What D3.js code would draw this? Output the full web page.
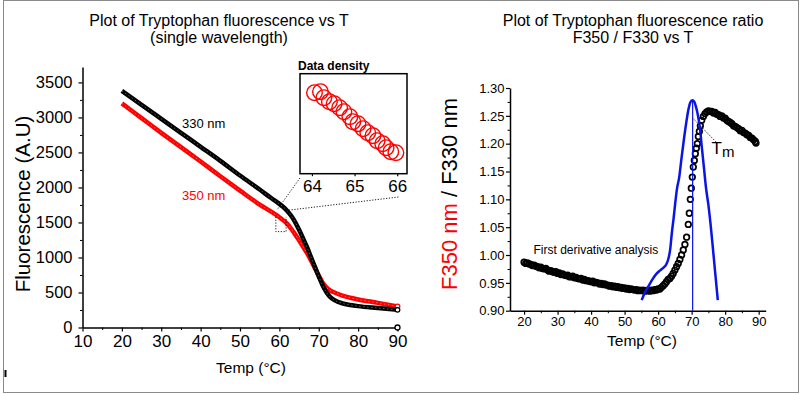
<!DOCTYPE html>
<html>
<head>
<meta charset="utf-8">
<script src="https://cdn.jsdelivr.net/npm/d3@7"></script>
<style>
body { margin: 0; background: white; }
svg text { font-family: "Liberation Sans", Arial, sans-serif; }
</style>
</head>
<body>
<div id="container"></div>
<script>
// left panel: single wavelength fluorescence
const temps = [20, 25, 30, 35, 40, 45, 50, 55, 58, 60, 61, 62, 63, 64, 65, 66, 67, 68, 69, 70, 71, 72, 73, 74, 76, 78, 80, 85, 90]
const f330 = [3380, 3180, 2980, 2780, 2580, 2380, 2170, 1970, 1845, 1765, 1720, 1665, 1595, 1505, 1395, 1275, 1150, 1010, 870, 730, 600, 500, 430, 390, 345, 322, 305, 278, 252]
const f350 = [3200, 2990, 2780, 2575, 2370, 2160, 1955, 1755, 1650, 1575, 1530, 1480, 1410, 1330, 1245, 1155, 1065, 960, 850, 740, 640, 570, 525, 500, 455, 425, 400, 352, 300]
const extraT = [90]
const extraF = [0]

// inset: zoom on the 350 nm data
const insetT = [64.06, 64.2, 64.28, 64.41, 64.52, 64.65, 64.75, 64.89, 64.96, 65.08, 65.2, 65.31, 65.43, 65.53, 65.66, 65.74, 65.85, 65.97]
const insetF = [1381, 1382, 1376, 1372, 1370, 1366, 1362, 1357, 1352, 1350, 1345, 1341, 1338, 1333, 1330, 1326, 1322, 1321]

// right panel: ratio F350/F330
const ratioT = [20, 20.5, 21, 21.5, 22, 22.5, 23, 23.5, 24, 24.5, 25, 25.5, 26, 26.5, 27, 27.5, 28, 28.5, 29, 29.5,
    30, 30.5, 31, 31.5, 32, 32.5, 33, 33.5, 34, 34.5, 35, 35.5, 36, 36.5, 37, 37.5, 38, 38.5, 39, 39.5,
    40, 40.5, 41, 41.5, 42, 42.5, 43, 43.5, 44, 44.5, 45, 45.5, 46, 46.5, 47, 47.5, 48, 48.5, 49, 49.5,
    50, 50.5, 51, 51.5, 52, 52.5, 53, 53.5, 54, 54.5, 55, 55.5, 56, 56.5, 57, 57.5, 58, 58.5, 59, 59.5,
    60, 60.5, 61, 61.5, 62, 62.5, 63, 63.5, 64, 64.5, 65, 65.5, 66, 66.5, 67, 67.5, 68, 68.5, 69, 69.3,
    69.6, 69.9, 70.2, 70.5, 70.8, 71.1, 71.4, 71.7, 72, 72.3, 72.6, 73, 73.5, 74, 74.5, 75, 75.5, 76,
    76.5, 77, 77.5, 78, 78.5, 79, 79.5, 80, 80.5, 81, 81.5, 82, 82.5, 83, 83.5, 84, 84.5, 85, 85.5,
    86, 86.5, 87, 87.5, 88, 88.5, 89, 89.2]
const ratio = [0.987, 0.985, 0.986, 0.984, 0.983, 0.981, 0.982, 0.980, 0.979, 0.977, 0.978, 0.976, 0.975, 0.976, 0.973, 0.971, 0.972, 0.970, 0.969, 0.970,
    0.967, 0.968, 0.965, 0.966, 0.964, 0.963, 0.964, 0.961, 0.961, 0.962, 0.959, 0.960, 0.958, 0.957, 0.958, 0.955, 0.956, 0.954, 0.954, 0.953,
    0.952, 0.953, 0.950, 0.951, 0.950, 0.948, 0.949, 0.947, 0.948, 0.946, 0.946, 0.944, 0.945, 0.943, 0.944, 0.942, 0.943, 0.941, 0.942, 0.940,
    0.941, 0.939, 0.940, 0.938, 0.939, 0.938, 0.937, 0.938, 0.936, 0.937, 0.936, 0.937, 0.935, 0.936, 0.937, 0.935, 0.937, 0.936, 0.938, 0.937,
    0.939, 0.939, 0.942, 0.945, 0.948, 0.952, 0.956, 0.958, 0.962, 0.967, 0.973, 0.979, 0.985, 0.992, 1.000, 1.009, 1.019, 1.032, 1.055, 1.075,
    1.100, 1.120, 1.140, 1.158, 1.170, 1.182, 1.192, 1.200, 1.213, 1.222, 1.232, 1.242, 1.249, 1.254, 1.257, 1.259, 1.258, 1.258,
    1.255, 1.256, 1.253, 1.252, 1.249, 1.250, 1.246, 1.246, 1.242, 1.240, 1.238, 1.236, 1.232, 1.231, 1.229, 1.227, 1.223, 1.224, 1.220,
    1.219, 1.216, 1.215, 1.211, 1.210, 1.207, 1.204, 1.201]

// first derivative curve
const derivT = [55.1, 56, 57, 57.6, 58.5, 59.6, 60.5, 61.5, 62.3, 63, 63.6, 64.1, 64.6, 65.1, 65.6, 66.3, 67, 67.7, 68.4, 69, 69.6, 70.2, 70.8, 71.3, 71.9, 72.5, 73.1, 73.7, 74.3, 75, 75.6, 76.3, 77, 77.8]
const deriv = [0.919, 0.932, 0.943, 0.949, 0.958, 0.967, 0.972, 0.977, 0.982, 0.992, 1.010, 1.040, 1.065, 1.093, 1.118, 1.140, 1.175, 1.208, 1.238, 1.260, 1.274, 1.278, 1.275, 1.266, 1.250, 1.226, 1.190, 1.155, 1.120, 1.090, 1.058, 1.015, 0.970, 0.919]
const tm = 70.3

const leftXTicks = [10, 20, 30, 40, 50, 60, 70, 80, 90]
const leftYTicks = [0, 500, 1000, 1500, 2000, 2500, 3000, 3500]
const insetTicks = [64, 65, 66]
const rightXTicks = [20, 30, 40, 50, 60, 70, 80, 90]
const rightYTicks = [0.90, 0.95, 1.00, 1.05, 1.10, 1.15, 1.20, 1.25, 1.30]

var W = 800, H = 394
var svg = d3.select('#container').append('svg')
    .attr('width', W)
    .attr('height', H)

svg.append('rect')
    .attr('x', 3.5).attr('y', 0.5)
    .attr('width', 795).attr('height', 392)
    .attr('fill', 'none')
    .attr('stroke', '#8a8a8a')
svg.append('rect')
    .attr('x', 4.5).attr('y', 370)
    .attr('width', 2).attr('height', 7)
    .attr('fill', 'black')

function minorBetween(ticks, step) {
    var out = []
    for (var i = 0; i < ticks.length - 1; i++) out.push(ticks[i] + step)
    return out
}

function styleAxis(g, size) {
    g.select('.domain').attr('stroke-width', 1.5)
    g.selectAll('.tick line').attr('stroke-width', 1.2)
    g.selectAll('text').style('font-size', size + 'px').attr('fill', 'black')
}

// ---------- left panel ----------
var xL = d3.scaleLinear().domain([10, 90]).range([82.5, 397.5])
var yL = d3.scaleLinear().domain([0, 3720]).range([327.5, 67])

var gl = svg.append('g')

gl.append('g').attr('transform', 'translate(0,' + yL(0) + ')')
    .call(d3.axisBottom(xL).tickValues(minorBetween(leftXTicks, 5)).tickSize(2.5).tickSizeOuter(0).tickFormat(''))
    .call(g => g.select('.domain').remove())
gl.append('g').attr('transform', 'translate(' + xL(10) + ',0)')
    .call(d3.axisLeft(yL).tickValues(minorBetween(leftYTicks, 250)).tickSize(2.5).tickSizeOuter(0).tickFormat(''))
    .call(g => g.select('.domain').remove())
gl.append('g').attr('transform', 'translate(0,' + yL(0) + ')')
    .call(d3.axisBottom(xL).tickValues(leftXTicks).tickSize(4).tickSizeOuter(0).tickPadding(3).tickFormat(d3.format('d')))
    .call(g => styleAxis(g, 17))
gl.append('g').attr('transform', 'translate(' + xL(10) + ',0)')
    .call(d3.axisLeft(yL).tickValues(leftYTicks).tickSize(4).tickSizeOuter(0).tickPadding(6).tickFormat(d3.format('d')))
    .call(g => styleAxis(g, 16.5))

var lineL = d3.line().curve(d3.curveMonotoneX)
    .x(d => xL(d[0])).y(d => yL(d[1]))

var s330 = temps.map((t, i) => [t, f330[i]])
var s350 = temps.map((t, i) => [t, f350[i]])

;[[s350, 'red'], [s330, 'black']].forEach(function(s) {
    gl.append('path').datum(s[0])
        .attr('d', lineL)
        .attr('fill', 'none')
        .attr('stroke', s[1])
        .attr('stroke-width', 4.5)
    gl.append('path').datum(s[0])
        .attr('d', lineL)
        .attr('fill', 'none')
        .attr('stroke', 'white')
        .attr('stroke-opacity', 0.45)
        .attr('stroke-width', 0.8)
        .attr('stroke-dasharray', '1.5 2.5')
    var last = s[0][s[0].length - 1]
    gl.append('circle')
        .attr('cx', xL(last[0])).attr('cy', yL(last[1])).attr('r', 2.3)
        .attr('fill', 'white').attr('stroke', s[1]).attr('stroke-width', 1.3)
})

gl.selectAll('circle.extra').data(extraT).join('circle')
    .attr('class', 'extra')
    .attr('cx', d => xL(d))
    .attr('cy', (d, i) => yL(extraF[i]))
    .attr('r', 2.5)
    .attr('fill', 'white').attr('stroke', 'black').attr('stroke-width', 1.3)

gl.append('text').attr('x', 182).attr('y', 128)
    .style('font-size', '13px').text('330 nm')
gl.append('text').attr('x', 182).attr('y', 200)
    .style('font-size', '13px').attr('fill', 'red').text('350 nm')

gl.append('text').attr('x', 219).attr('y', 26).attr('text-anchor', 'middle')
    .style('font-size', '16px').text('Plot of Tryptophan fluorescence vs T')
gl.append('text').attr('x', 219).attr('y', 43).attr('text-anchor', 'middle')
    .style('font-size', '16px').text('(single wavelength)')
gl.append('text').attr('x', 251).attr('y', 373).attr('text-anchor', 'middle')
    .style('font-size', '15.5px').text('Temp (°C)')
gl.append('text').attr('transform', 'translate(30,204) rotate(-90)').attr('text-anchor', 'middle')
    .style('font-size', '20.5px').text('Fluorescence (A.U)')

// zoom box and connectors
var dotted = '1.2 1.6'
gl.append('path')
    .attr('d', 'M' + xL(59.1) + ',' + yL(1579) + 'V' + yL(1369) + 'H' + xL(61.7) + 'V' + yL(1579))
    .attr('fill', 'none').attr('stroke', 'black').attr('stroke-width', 0.9).attr('stroke-dasharray', dotted)
gl.append('line').attr('x1', 300).attr('y1', 178).attr('x2', 277).attr('y2', 210)
    .attr('stroke', 'black').attr('stroke-width', 0.9).attr('stroke-dasharray', dotted)
gl.append('line').attr('x1', 286).attr('y1', 210.5).attr('x2', 398.5).attr('y2', 197)
    .attr('stroke', 'black').attr('stroke-width', 0.9).attr('stroke-dasharray', dotted)

// inset
var xIn = d3.scaleLinear().domain([63.72, 66.23]).range([300, 407])
var yIn = d3.scaleLinear().domain([1300, 1400]).range([173.7, 73.7])
var gi = svg.append('g')
gi.append('rect').attr('x', 300).attr('y', 73.7).attr('width', 107).attr('height', 100)
    .attr('fill', 'white').attr('stroke', 'black').attr('stroke-width', 1.5)
gi.append('g').attr('transform', 'translate(0,' + yIn(1300) + ')')
    .call(d3.axisBottom(xIn).tickValues(insetTicks).tickSize(2.5).tickSizeOuter(0).tickPadding(3.5).tickFormat(d3.format('d')))
    .call(g => g.select('.domain').remove())
    .call(g => styleAxis(g, 17))
gi.selectAll('circle').data(insetT).join('circle')
    .attr('cx', d => xIn(d))
    .attr('cy', (d, i) => yIn(insetF[i]))
    .attr('r', 7.8)
    .attr('fill', 'none').attr('stroke', 'red').attr('stroke-width', 1.4)
gi.append('text').attr('x', 298).attr('y', 70)
    .style('font-size', '12px').style('font-weight', 'bold').text('Data density')

// ---------- right panel ----------
var xR = d3.scaleLinear().domain([15.8, 92.1]).range([510, 765.7])
var yR = d3.scaleLinear().domain([0.9, 1.3]).range([310.7, 88])
var gr = svg.append('g')

gr.append('g').attr('transform', 'translate(0,' + yR(0.9) + ')')
    .call(d3.axisBottom(xR).tickValues(minorBetween(rightXTicks, 5)).tickSize(2.5).tickSizeOuter(0).tickFormat(''))
    .call(g => g.select('.domain').remove())
gr.append('g').attr('transform', 'translate(' + xR(15.8) + ',0)')
    .call(d3.axisLeft(yR).tickValues(minorBetween(rightYTicks, 0.025)).tickSize(2.5).tickSizeOuter(0).tickFormat(''))
    .call(g => g.select('.domain').remove())
gr.append('g').attr('transform', 'translate(0,' + yR(0.9) + ')')
    .call(d3.axisBottom(xR).tickValues(rightXTicks).tickSize(4).tickSizeOuter(0).tickPadding(2).tickFormat(d3.format('d')))
    .call(g => styleAxis(g, 13))
gr.append('g').attr('transform', 'translate(' + xR(15.8) + ',0)')
    .call(d3.axisLeft(yR).tickValues(rightYTicks).tickSize(4).tickSizeOuter(0).tickPadding(1.5).tickFormat(d3.format('.2f')))
    .call(g => styleAxis(g, 13))

gr.selectAll('circle.ratio').data(ratioT).join('circle')
    .attr('class', 'ratio')
    .attr('cx', d => xR(d))
    .attr('cy', (d, i) => yR(ratio[i]))
    .attr('r', 2.8)
    .attr('fill', 'none').attr('stroke', 'black').attr('stroke-width', 1.7)

var lineR = d3.line().curve(d3.curveMonotoneX)
    .x(d => xR(d[0])).y(d => yR(d[1]))
gr.append('path').datum(derivT.map((t, i) => [t, deriv[i]]))
    .attr('d', lineR)
    .attr('fill', 'none').attr('stroke', '#0a14e6').attr('stroke-width', 2.5)
gr.append('line')
    .attr('x1', xR(tm)).attr('x2', xR(tm))
    .attr('y1', yR(0.9)).attr('y2', yR(d3.max(deriv)))
    .attr('stroke', '#0a14e6').attr('stroke-width', 1.2)

gr.append('line')
    .attr('x1', xR(70.5)).attr('y1', yR(1.245))
    .attr('x2', xR(77.3)).attr('y2', yR(1.203))
    .attr('stroke', 'black').attr('stroke-width', 0.9).attr('stroke-dasharray', '1.2 1.4')
var tmText = gr.append('text').attr('x', 711.5).attr('y', 153.5).style('font-size', '17px')
tmText.append('tspan').text('T')
tmText.append('tspan').attr('dy', 3.5).style('font-size', '15px').text('m')

gr.append('text').attr('x', 533.5).attr('y', 254)
    .style('font-size', '12px').text('First derivative analysis')

gr.append('text').attr('x', 633).attr('y', 26).attr('text-anchor', 'middle')
    .style('font-size', '16px').text('Plot of Tryptophan fluorescence ratio')
gr.append('text').attr('x', 633).attr('y', 43).attr('text-anchor', 'middle')
    .style('font-size', '16px').text('F350 / F330 vs T')
gr.append('text').attr('x', 642).attr('y', 346).attr('text-anchor', 'middle')
    .style('font-size', '15.5px').text('Temp (°C)')
var yLab = gr.append('text').attr('transform', 'translate(457,194) rotate(-90)')
    .attr('text-anchor', 'middle').style('font-size', '22px')
yLab.append('tspan').attr('fill', 'red').text('F350 nm')
yLab.append('tspan').attr('fill', 'black').text(' / F330 nm')
</script>
</body>
</html>
